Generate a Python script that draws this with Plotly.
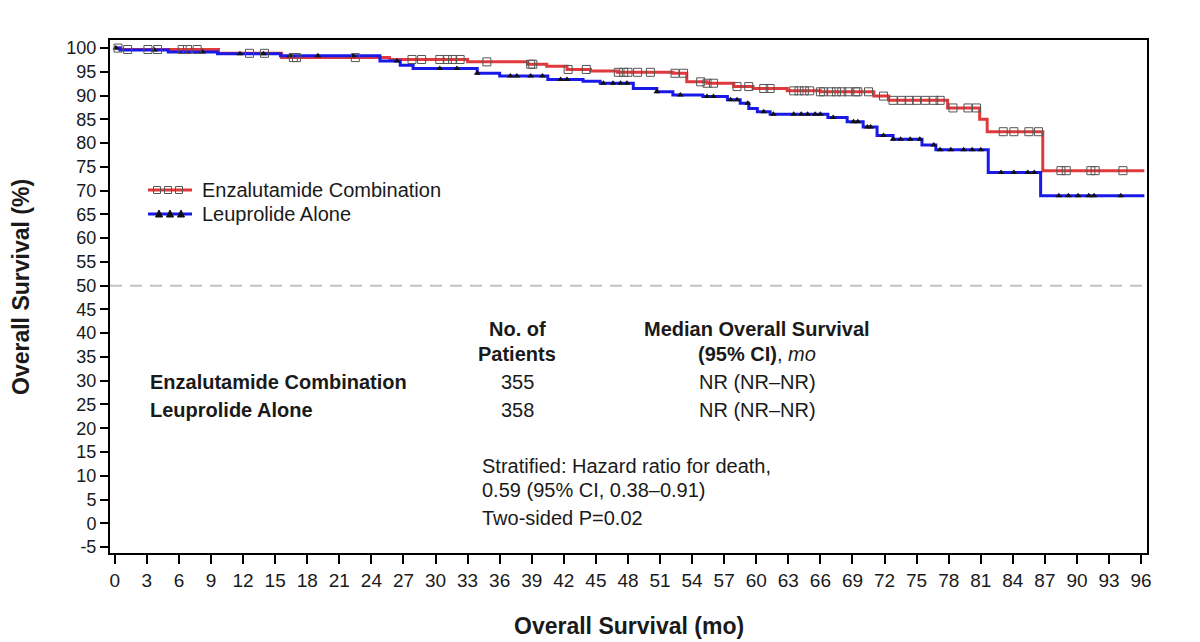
import plotly.graph_objects as go
import numpy as np

# ---------------- data ----------------
enz_time = [0, 0.5, 9.7, 15.6, 25.7, 33.0, 38.6, 40.4, 42.3, 44.5, 47.0, 52.2, 53.5, 55.4, 57.9,
            59.7, 62.9, 66.0, 71.0, 72.4, 77.9, 80.9, 81.6, 86.8, 96.3]
enz_surv = [100, 99.7, 98.9, 98.0, 97.6, 97.1, 96.6, 96.2, 95.5, 95.2, 94.9, 94.7, 92.9, 92.6, 91.9,
            91.5, 91.0, 90.8, 89.9, 89.0, 87.4, 85.0, 82.4, 74.2, 74.2]
enz_censor = [0.3, 1.2, 3.1, 4.0, 6.3, 6.8, 7.7, 12.6, 14.0, 16.7, 17.0, 22.5, 27.8, 28.7, 30.4, 31.1,
              31.6, 32.3, 34.8, 38.9, 39.1, 42.4, 44.1, 47.1, 47.6, 48.0, 48.9, 50.1, 52.4, 53.2, 54.8,
              55.4, 56.0, 58.2, 59.3, 60.7, 61.3, 63.5, 64.0, 64.5, 65.0, 66.0, 66.3, 67.0, 67.5, 68.0,
              68.6, 69.3, 69.5, 70.5, 71.9, 72.8, 73.6, 74.3, 75.0, 75.8, 76.6, 77.2, 78.4, 79.8, 80.6,
              83.1, 84.1, 85.5, 86.4, 88.5, 89.0, 91.3, 91.7, 94.3]

leu_time = [0, 0.5, 5.0, 9.6, 15.5, 24.8, 26.7, 27.9, 33.9, 36.0, 40.5, 43.8, 45.4, 48.5, 50.7, 52.2,
            55.0, 57.3, 58.5, 59.3, 60.1, 61.3, 66.7, 68.5, 70.0, 71.3, 72.8, 75.5, 76.8, 81.7, 86.6, 96.3]
leu_surv = [100, 99.6, 99.2, 98.8, 98.4, 97.3, 96.4, 95.7, 94.7, 94.1, 93.4, 93.0, 92.6, 91.5, 90.8, 90.1,
            89.8, 89.1, 88.4, 87.3, 86.6, 86.1, 85.4, 84.5, 83.4, 81.6, 80.8, 79.6, 78.6, 73.8, 68.9, 68.9]
leu_censor = [0.1, 3.7, 8.2, 11.7, 13.9, 16.4, 19.0, 22.3, 26.4, 30.4, 32.0, 33.9, 37.0, 37.6, 38.9,
              40.0, 41.7, 42.3, 45.7, 46.6, 47.3, 47.9, 50.7, 52.9, 55.4, 56.0, 57.6, 58.2, 59.2, 60.7,
              61.6, 63.5, 64.2, 64.8, 65.5, 66.0, 67.2, 69.1, 69.5, 70.4, 70.7, 71.9, 72.8, 73.5, 74.4,
              75.3, 76.6, 77.2, 78.2, 79.4, 80.2, 81.0, 82.9, 84.1, 85.4, 86.0, 88.3, 89.2, 90.1, 91.1,
              91.6, 94.1]

series_names = ["Enzalutamide Combination", "Leuprolide Alone"]
patients = ["355", "358"]
median_os = ["NR (NR–NR)", "NR (NR–NR)"]

x_ticks = list(range(0, 97, 3))
y_ticks = list(range(-5, 101, 5))

RED = "#E0393B"
BLUE = "#1A1AE8"


def step_value(times, surv, t):
    idx = np.searchsorted(np.array(times), t, side="right") - 1
    return surv[max(idx, 0)]


fig = go.Figure()

# survival curves
fig.add_trace(go.Scatter(x=enz_time, y=enz_surv, mode="lines", line=dict(color=RED, width=3, shape="hv"),
                         showlegend=False, hoverinfo="skip"))
fig.add_trace(go.Scatter(x=leu_time, y=leu_surv, mode="lines", line=dict(color=BLUE, width=3, shape="hv"),
                         showlegend=False, hoverinfo="skip"))

# censor marks
fig.add_trace(go.Scatter(x=leu_censor, y=[step_value(leu_time, leu_surv, t) for t in leu_censor],
                         mode="markers", marker=dict(symbol="triangle-up", size=6, color="#111"),
                         showlegend=False, hoverinfo="skip"))
fig.add_trace(go.Scatter(x=enz_censor, y=[step_value(enz_time, enz_surv, t) for t in enz_censor],
                         mode="markers",
                         marker=dict(symbol="square-open", size=8, color="#555", line=dict(width=1)),
                         showlegend=False, hoverinfo="skip"))

# 50% reference line
fig.add_shape(type="line", xref="paper", yref="y", x0=0, x1=1, y0=50, y1=50,
              line=dict(color="#C4C4C4", width=2, dash="12px,8px"), layer="below")

L, R, T, B = 110, 1147, 40, 553
W, H = 1200, 642


def px(x):
    return (x - L) / (R - L)


def py(y):
    return 1 - (y - T) / (B - T)


FONT = "Liberation Sans, Arial, sans-serif"
TXT = "#1a1a1a"
ann = []


def add_text(text, x, y, anchor="center", size=20):
    ann.append(dict(text=text, x=px(x), y=py(y), xref="paper", yref="paper", xanchor=anchor,
                    yanchor="middle", showarrow=False, font=dict(family=FONT, size=size, color=TXT)))


# ---- custom legend (line with three symbols) ----
for row_y, color in ((190, RED), (214, BLUE)):
    fig.add_shape(type="line", xref="paper", yref="paper", x0=px(148), x1=px(192), y0=py(row_y), y1=py(row_y),
                  line=dict(color=color, width=3))
for cx in (157, 168, 179):
    fig.add_shape(type="rect", xref="paper", yref="paper", x0=px(cx - 3.5), x1=px(cx + 3.5),
                  y0=py(190 + 3.5), y1=py(190 - 3.5), line=dict(color="#555", width=1))
for cx in (159, 170, 181):
    path = "M {:.5f},{:.5f} L {:.5f},{:.5f} L {:.5f},{:.5f} Z".format(
        px(cx - 3.5), py(214 + 3), px(cx + 3.5), py(214 + 3), px(cx), py(214 - 4))
    fig.add_shape(type="path", xref="paper", yref="paper", path=path,
                  fillcolor="#111", line=dict(color="#111", width=1))
add_text(series_names[0], 200, 190, "left")
add_text(series_names[1], 200, 214, "left")

# ---- table ----
add_text("<b>No. of</b>", 517, 329)
add_text("<b>Patients</b>", 517, 354)
add_text("<b>Median Overall Survival</b>", 757, 329)
add_text("<b>(95% CI)</b>, <i>mo</i>", 757, 354)
add_text("<b>" + series_names[0] + "</b>", 148, 382, "left")
add_text("<b>" + series_names[1] + "</b>", 148, 410, "left")
add_text(patients[0], 517, 382)
add_text(patients[1], 517, 410)
add_text(median_os[0], 757, 382)
add_text(median_os[1], 757, 410)
add_text("Stratified: Hazard ratio for death,", 480, 466, "left")
add_text("0.59 (95% CI, 0.38–0.91)", 480, 490, "left")
add_text("Two-sided P=0.02", 480, 518, "left")

# axis titles
ann.append(dict(text="<b>Overall Survival (mo)</b>", x=px(629), y=py(626), xref="paper", yref="paper",
                xanchor="center", yanchor="middle", showarrow=False,
                font=dict(family=FONT, size=23, color=TXT)))
ann.append(dict(text="<b>Overall Survival (%)</b>", x=px(21), y=py(287), xref="paper", yref="paper",
                xanchor="center", yanchor="middle", showarrow=False, textangle=-90,
                font=dict(family=FONT, size=23, color=TXT)))

fig.update_layout(
    width=W, height=H,
    margin=dict(l=L, r=W - R, t=T, b=H - B),
    paper_bgcolor="white", plot_bgcolor="white",
    annotations=ann,
    showlegend=False,
)

fig.update_xaxes(range=[-0.45, 96.55], tickvals=x_ticks, ticktext=[str(v) for v in x_ticks],
                 showgrid=False, zeroline=False, showline=True, linecolor="black", linewidth=2,
                 mirror=True, ticks="outside", ticklen=9, tickwidth=2, tickcolor="black",
                 tickfont=dict(family=FONT, size=19, color=TXT))
fig.update_yaxes(range=[-6.26, 101.7], tickvals=y_ticks, ticktext=[str(v) for v in y_ticks],
                 showgrid=False, zeroline=False, showline=True, linecolor="black", linewidth=2,
                 mirror=True, ticks="outside", ticklen=8, tickwidth=2, tickcolor="black",
                 tickfont=dict(family=FONT, size=18, color=TXT))

fig.write_html("out.html")
